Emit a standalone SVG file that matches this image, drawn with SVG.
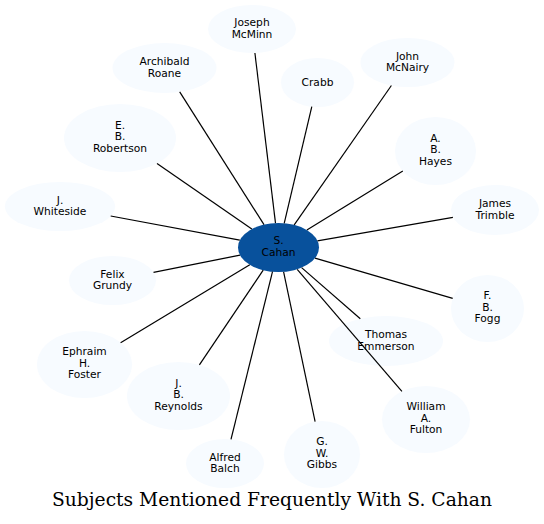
<svg xmlns="http://www.w3.org/2000/svg" width="544" height="524" viewBox="0 0 544 524">
<style>
.n ellipse{fill:#f7fbff;stroke:none}
#cahan ellipse{fill:#08519c}
text{font-family:"DejaVu Sans","Liberation Sans",sans-serif;font-size:10.67px;fill:#000;text-anchor:middle}
.e line{stroke:#000;stroke-width:1.2}
.title{font-family:"DejaVu Serif","Liberation Serif",serif;font-size:18px}
</style>
<rect width="544" height="524" fill="#fff"/>
<g id="nodes">
<g id="cahan" class="n"><ellipse cx="278.5" cy="247.5" rx="40.5" ry="24.5"/><text x="278.5" y="244">S.<tspan x="278.5" dy="12">Cahan</tspan></text></g>
<g id="mcminn" class="n"><ellipse cx="252" cy="29" rx="44" ry="24"/><text x="252" y="26">Joseph<tspan x="252" dy="11.7">McMinn</tspan></text></g>
<g id="roane" class="n"><ellipse cx="164.5" cy="68" rx="52" ry="25"/><text x="164.5" y="65">Archibald<tspan x="164.5" dy="11.7">Roane</tspan></text></g>
<g id="robertson" class="n"><ellipse cx="120" cy="138" rx="56" ry="34"/><text x="120" y="128.5">E.<tspan x="120" dy="11.7">B.</tspan><tspan x="120" dy="11.7">Robertson</tspan></text></g>
<g id="whiteside" class="n"><ellipse cx="60" cy="206.5" rx="55" ry="24.5"/><text x="60" y="203.5">J.<tspan x="60" dy="11.7">Whiteside</tspan></text></g>
<g id="crabb" class="n"><ellipse cx="317.5" cy="82.5" rx="36.5" ry="24.5"/><text x="317.5" y="85.5">Crabb</text></g>
<g id="mcnairy" class="n"><ellipse cx="407.5" cy="62.5" rx="47" ry="24.5"/><text x="407.5" y="59.5">John<tspan x="407.5" dy="11.7">McNairy</tspan></text></g>
<g id="hayes" class="n"><ellipse cx="435.5" cy="151" rx="40.5" ry="34"/><text x="435.5" y="141.5">A.<tspan x="435.5" dy="11.7">B.</tspan><tspan x="435.5" dy="11.7">Hayes</tspan></text></g>
<g id="trimble" class="n"><ellipse cx="495" cy="210" rx="44" ry="25"/><text x="495" y="207">James<tspan x="495" dy="11.7">Trimble</tspan></text></g>
<g id="grundy" class="n"><ellipse cx="112.5" cy="280.5" rx="43.5" ry="24.5"/><text x="112.5" y="277.5">Felix<tspan x="112.5" dy="11.7">Grundy</tspan></text></g>
<g id="foster" class="n"><ellipse cx="84.5" cy="364.5" rx="47.5" ry="33.5"/><text x="84.5" y="355">Ephraim<tspan x="84.5" dy="11.7">H.</tspan><tspan x="84.5" dy="11.7">Foster</tspan></text></g>
<g id="reynolds" class="n"><ellipse cx="178.5" cy="396" rx="51.5" ry="34"/><text x="178.5" y="386.5">J.<tspan x="178.5" dy="11.7">B.</tspan><tspan x="178.5" dy="11.7">Reynolds</tspan></text></g>
<g id="balch" class="n"><ellipse cx="225" cy="463.5" rx="39" ry="24.5"/><text x="225" y="460.5">Alfred<tspan x="225" dy="11.7">Balch</tspan></text></g>
<g id="gibbs" class="n"><ellipse cx="322" cy="454.5" rx="38" ry="33.5"/><text x="322" y="445">G.<tspan x="322" dy="11.7">W.</tspan><tspan x="322" dy="11.7">Gibbs</tspan></text></g>
<g id="emmerson" class="n"><ellipse cx="386" cy="341" rx="57" ry="25"/><text x="386" y="338">Thomas<tspan x="386" dy="11.7">Emmerson</tspan></text></g>
<g id="fulton" class="n"><ellipse cx="426" cy="419.5" rx="44" ry="33.5"/><text x="426" y="410">William<tspan x="426" dy="11.7">A.</tspan><tspan x="426" dy="11.7">Fulton</tspan></text></g>
<g id="fogg" class="n"><ellipse cx="487.5" cy="308.5" rx="36.5" ry="33.5"/><text x="487.5" y="299">F.<tspan x="487.5" dy="11.7">B.</tspan><tspan x="487.5" dy="11.7">Fogg</tspan></text></g>
</g>
<g id="connectors" class="e">
<line x1="275.5" y1="223.1" x2="254.9" y2="53.0"/>
<line x1="264.0" y1="224.6" x2="179.7" y2="91.9"/>
<line x1="251.8" y1="229.1" x2="157.0" y2="163.5"/>
<line x1="239.8" y1="240.2" x2="110.7" y2="216.0"/>
<line x1="284.2" y1="223.3" x2="311.8" y2="106.7"/>
<line x1="294.2" y1="224.9" x2="391.4" y2="85.5"/>
<line x1="306.9" y1="230.0" x2="402.8" y2="171.1"/>
<line x1="317.4" y1="240.8" x2="452.9" y2="217.3"/>
<line x1="240.0" y1="255.2" x2="153.5" y2="272.3"/>
<line x1="249.8" y1="264.8" x2="120.6" y2="342.7"/>
<line x1="263.2" y1="270.2" x2="199.4" y2="364.9"/>
<line x1="272.5" y1="271.7" x2="231.0" y2="439.3"/>
<line x1="283.6" y1="271.8" x2="315.1" y2="421.6"/>
<line x1="301.6" y1="267.6" x2="360.3" y2="318.7"/>
<line x1="297.2" y1="269.3" x2="401.9" y2="391.4"/>
<line x1="315.0" y1="258.2" x2="452.7" y2="298.4"/>
</g>
<text class="title" x="272" y="506" textLength="440" lengthAdjust="spacingAndGlyphs">Subjects Mentioned Frequently With S. Cahan</text>
</svg>
